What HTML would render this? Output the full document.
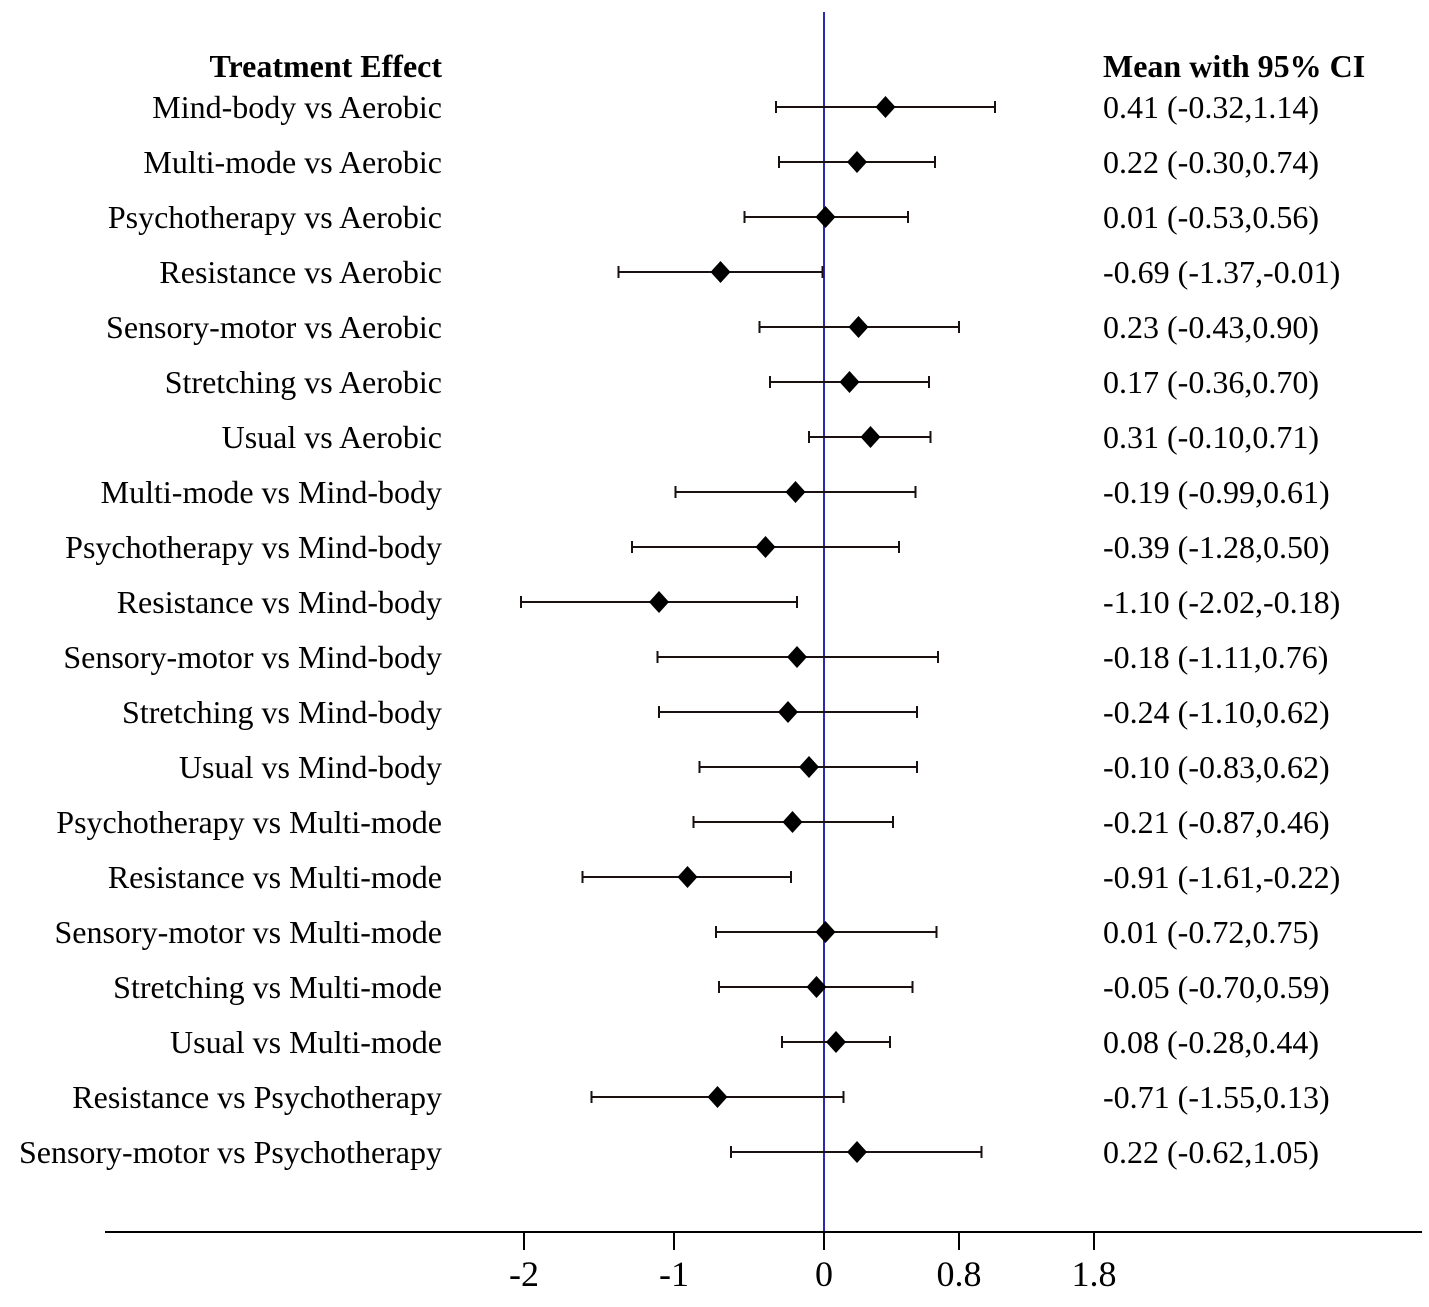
<!DOCTYPE html>
<html><head><meta charset="utf-8"><style>
body{margin:0;background:#fff}
svg text{font-family:"Liberation Serif",serif;fill:#000}
</style></head><body>
<svg width="1429" height="1302">
<g id="g"></g>
</svg>
<script>
const labels=["Mind-body vs Aerobic","Multi-mode vs Aerobic","Psychotherapy vs Aerobic","Resistance vs Aerobic","Sensory-motor vs Aerobic","Stretching vs Aerobic","Usual vs Aerobic","Multi-mode vs Mind-body","Psychotherapy vs Mind-body","Resistance vs Mind-body","Sensory-motor vs Mind-body","Stretching vs Mind-body","Usual vs Mind-body","Psychotherapy vs Multi-mode","Resistance vs Multi-mode","Sensory-motor vs Multi-mode","Stretching vs Multi-mode","Usual vs Multi-mode","Resistance vs Psychotherapy","Sensory-motor vs Psychotherapy"];
const means=[0.41,0.22,0.01,-0.69,0.23,0.17,0.31,-0.19,-0.39,-1.10,-0.18,-0.24,-0.10,-0.21,-0.91,0.01,-0.05,0.08,-0.71,0.22];
const lows=[-0.32,-0.30,-0.53,-1.37,-0.43,-0.36,-0.10,-0.99,-1.28,-2.02,-1.11,-1.10,-0.83,-0.87,-1.61,-0.72,-0.70,-0.28,-1.55,-0.62];
const highs=[1.14,0.74,0.56,-0.01,0.90,0.70,0.71,0.61,0.50,-0.18,0.76,0.62,0.62,0.46,-0.22,0.75,0.59,0.44,0.13,1.05];
const tickVals=[-2,-1,0,0.9,1.8];
const tickLabels=["-2","-1","0","0.8","1.8"];
const X=v=>824+v*150, Y=i=>107+i*55;
const g=document.getElementById('g');const NS='http://www.w3.org/2000/svg';
function mk(t,a,txt){const e=document.createElementNS(NS,t);for(const k in a)e.setAttribute(k,a[k]);if(txt!=null)e.textContent=txt;g.appendChild(e);return e;}
let e;
e=mk('text',{x:442,y:77,'text-anchor':'end','font-size':32,'font-weight':'bold'},'Treatment Effect');


e=mk('text',{x:1103,y:77,'font-size':32,'font-weight':'bold'},'Mean with 95% CI');


e=mk('line',{x1:824,y1:12,x2:824,y2:1232,stroke:'#2a2ab0','stroke-width':2});


e=mk('line',{x1:105,y1:1232,x2:1422,y2:1232,stroke:'#000','stroke-width':2});


tickVals.forEach((v,i)=>{
 e=mk('line',{x1:X(v),y1:1232,x2:X(v),y2:1250,stroke:'#000','stroke-width':2});
 
 
 e=mk('text',{x:X(v),y:1286,'text-anchor':'middle','font-size':36},tickLabels[i]);
 
 
});
const f=v=>v.toFixed(2);
labels.forEach((l,i)=>{
 const y=Y(i);
 e=mk('text',{x:442,y:y+11,'text-anchor':'end','font-size':32},l);
 
 
 e=mk('text',{x:1103,y:y+11,'font-size':32},f(means[i])+' ('+f(lows[i])+','+f(highs[i])+')');
 
 
 e=mk('path',{d:`M${X(lows[i])},${y}H${X(highs[i])}M${X(lows[i])},${y-6}V${y+6}M${X(highs[i])},${y-6}V${y+6}`,stroke:'#1a1010','stroke-width':2,fill:'none'});
 
 
 const cx=X(means[i]);
 e=mk('polygon',{points:`${cx},${y-11} ${cx+10},${y} ${cx},${y+11} ${cx-10},${y}`,fill:'#000'});
 
 
});
</script>
</body></html>
